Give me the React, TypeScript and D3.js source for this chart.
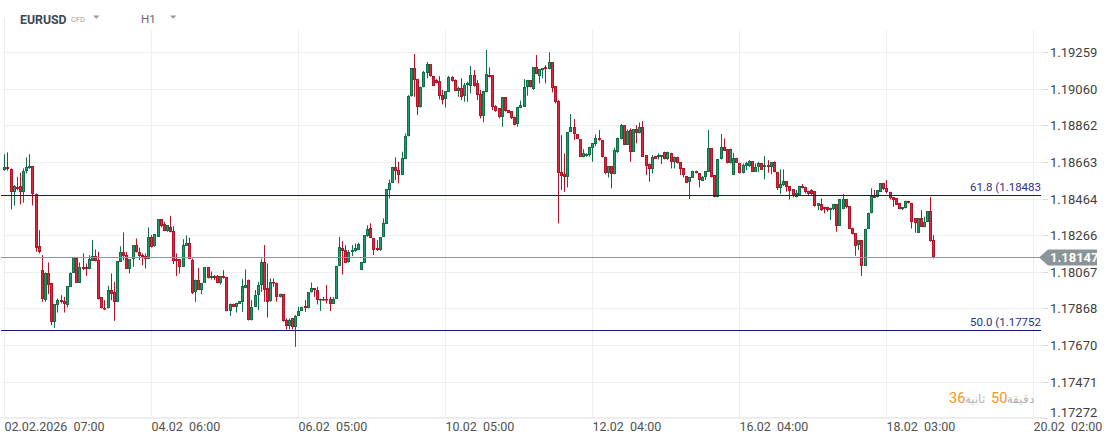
import React from "react";
import * as d3 from "d3";

const W = 1109;
const H = 442;

// Hourly EURUSD candles (02.02.2026 07:00 onwards)
const open = [
1.18619,1.18634,1.18625,1.18501,1.18529,1.18534,1.18498,1.18612,1.18628,1.18639,1.18492,1.18206,1.18076,1.17913,1.18063,1.18004,1.17796,1.17886,1.17913,1.17908,
1.17886,1.17986,1.18062,1.18141,1.18009,1.18091,1.18091,1.18083,1.18127,1.18152,1.18130,1.17928,1.17873,1.17868,1.17967,1.17958,1.17904,1.18123,1.18177,1.18161,
1.18085,1.18136,1.18210,1.18174,1.18158,1.18154,1.18136,1.18257,1.18206,1.18257,1.18351,1.18326,1.18288,1.18308,1.18288,1.18139,1.18136,1.18094,1.18208,1.18221,
1.18130,1.17958,1.18025,1.17971,1.18007,1.18091,1.18031,1.18044,1.18047,1.18009,1.18044,1.18040,1.17853,1.17895,1.17877,1.17895,1.17901,1.17977,1.18025,1.17803,
1.17877,1.17939,1.17998,1.18120,1.17977,1.17910,1.18013,1.18009,1.17928,1.17944,1.17808,1.17772,1.17814,1.17765,1.17828,1.17855,1.17881,1.17868,1.17955,1.17977,
1.17971,1.17913,1.17922,1.17922,1.17922,1.17895,1.17922,1.18100,1.18199,1.18188,1.18120,1.18176,1.18181,1.18188,1.18076,1.18116,1.18261,1.18306,1.18248,1.18194,
1.18185,1.18257,1.18326,1.18511,1.18550,1.18637,1.18619,1.18592,1.18682,1.18802,1.19023,1.19171,1.19111,1.18959,1.19072,1.19144,1.19195,1.19131,1.19108,1.19102,
1.19026,1.19003,1.19044,1.19126,1.19108,1.19050,1.19063,1.19021,1.19081,1.19077,1.19135,1.19090,1.19032,1.18912,1.19041,1.19135,1.19135,1.18967,1.18954,1.18909,
1.19014,1.18945,1.18940,1.18905,1.18867,1.18954,1.18963,1.19072,1.19108,1.19059,1.19177,1.19131,1.19162,1.19177,1.19166,1.19204,1.19075,1.18996,1.18610,1.18596,
1.18579,1.18824,1.18851,1.18813,1.18787,1.18692,1.18695,1.18701,1.18737,1.18760,1.18796,1.18782,1.18692,1.18605,1.18641,1.18596,1.18715,1.18786,1.18863,1.18758,
1.18836,1.18719,1.18842,1.18818,1.18851,1.18701,1.18652,1.18623,1.18695,1.18692,1.18692,1.18719,1.18679,1.18713,1.18661,1.18692,1.18661,1.18628,1.18587,1.18552,
1.18578,1.18616,1.18601,1.18561,1.18579,1.18610,1.18737,1.18592,1.18474,1.18677,1.18746,1.18731,1.18655,1.18592,1.18686,1.18659,1.18601,1.18641,1.18641,1.18668,
1.18610,1.18634,1.18655,1.18634,1.18646,1.18634,1.18664,1.18607,1.18520,1.18538,1.18560,1.18532,1.18516,1.18471,1.18483,1.18534,1.18529,1.18507,1.18511,1.18505,
1.18426,1.18435,1.18417,1.18417,1.18402,1.18407,1.18433,1.18317,1.18407,1.18460,1.18424,1.18306,1.18275,1.18212,1.18239,1.18100,1.18302,1.18384,1.18478,1.18471,
1.18502,1.18547,1.18520,1.18502,1.18471,1.18465,1.18442,1.18407,1.18411,1.18453,1.18442,1.18357,1.18279,1.18357,1.18312,1.18339,1.18397,1.18239];

const high = [
1.18706,1.18715,1.18628,1.18538,1.18583,1.18605,1.18628,1.18688,1.18706,1.18639,1.18492,1.18293,1.18158,1.18063,1.18118,1.18004,1.17890,1.17922,1.17940,1.17931,
1.17989,1.18063,1.18141,1.18141,1.18118,1.18167,1.18112,1.18158,1.18239,1.18188,1.18176,1.17928,1.17913,1.17991,1.18058,1.18013,1.18127,1.18206,1.18281,1.18176,
1.18136,1.18210,1.18248,1.18199,1.18167,1.18167,1.18308,1.18266,1.18270,1.18351,1.18351,1.18339,1.18321,1.18371,1.18315,1.18167,1.18136,1.18244,1.18264,1.18252,
1.18139,1.18025,1.18089,1.18007,1.18091,1.18091,1.18069,1.18049,1.18049,1.18044,1.18076,1.18040,1.17895,1.17895,1.17899,1.17908,1.18027,1.18080,1.18025,1.17913,
1.17968,1.18013,1.18139,1.18212,1.18112,1.18031,1.18031,1.18009,1.17949,1.17944,1.17814,1.17814,1.17814,1.17832,1.17877,1.17877,1.17913,1.17955,1.18009,1.17977,
1.17986,1.17922,1.17931,1.17995,1.17931,1.17931,1.18100,1.18257,1.18234,1.18212,1.18185,1.18212,1.18221,1.18225,1.18121,1.18266,1.18320,1.18330,1.18248,1.18239,
1.18257,1.18357,1.18514,1.18568,1.18637,1.18688,1.18664,1.18719,1.18818,1.19026,1.19171,1.19249,1.19111,1.19072,1.19157,1.19206,1.19195,1.19131,1.19113,1.19129,
1.19054,1.19048,1.19131,1.19129,1.19111,1.19072,1.19117,1.19093,1.19099,1.19184,1.19162,1.19108,1.19054,1.19050,1.19271,1.19177,1.19135,1.18972,1.18954,1.19014,
1.19014,1.18945,1.18940,1.18909,1.18963,1.18996,1.19113,1.19108,1.19108,1.19177,1.19244,1.19168,1.19171,1.19189,1.19258,1.19204,1.19075,1.18999,1.18809,1.18710,
1.18824,1.18923,1.18896,1.18813,1.18787,1.18733,1.18710,1.18746,1.18764,1.18813,1.18836,1.18782,1.18692,1.18641,1.18641,1.18742,1.18795,1.18869,1.18863,1.18840,
1.18845,1.18842,1.18863,1.18878,1.18885,1.18701,1.18655,1.18701,1.18695,1.18710,1.18701,1.18719,1.18719,1.18713,1.18692,1.18692,1.18661,1.18628,1.18587,1.18583,
1.18616,1.18616,1.18601,1.18587,1.18614,1.18836,1.18737,1.18592,1.18679,1.18815,1.18791,1.18731,1.18737,1.18713,1.18686,1.18659,1.18655,1.18664,1.18673,1.18668,
1.18655,1.18664,1.18655,1.18695,1.18673,1.18664,1.18668,1.18610,1.18623,1.18623,1.18560,1.18532,1.18516,1.18511,1.18534,1.18543,1.18529,1.18507,1.18516,1.18505,
1.18438,1.18465,1.18420,1.18420,1.18415,1.18433,1.18433,1.18460,1.18489,1.18460,1.18424,1.18306,1.18275,1.18239,1.18239,1.18302,1.18388,1.18520,1.18511,1.18511,
1.18547,1.18547,1.18565,1.18502,1.18471,1.18465,1.18442,1.18420,1.18453,1.18453,1.18442,1.18357,1.18357,1.18402,1.18366,1.18397,1.18474,1.18266];

const low = [
1.18615,1.18615,1.18406,1.18427,1.18510,1.18433,1.18442,1.18601,1.18626,1.18427,1.18176,1.18167,1.17904,1.17904,1.17946,1.17777,1.17763,1.17846,1.17895,1.17846,
1.17873,1.17986,1.18062,1.18009,1.18009,1.18076,1.18045,1.18080,1.18127,1.18123,1.17917,1.17868,1.17859,1.17868,1.17913,1.17801,1.17904,1.18123,1.18130,1.18085,
1.18058,1.18094,1.18172,1.18130,1.18103,1.18085,1.18136,1.18199,1.18203,1.18257,1.18308,1.18288,1.18284,1.18281,1.18109,1.18044,1.18058,1.18094,1.18208,1.18136,
1.17946,1.17904,1.17971,1.17946,1.18007,1.18031,1.18025,1.18022,1.18004,1.17997,1.18031,1.17853,1.17828,1.17877,1.17846,1.17895,1.17850,1.17977,1.17803,1.17803,
1.17877,1.17859,1.17958,1.17904,1.17819,1.17904,1.17986,1.17904,1.17928,1.17796,1.17754,1.17754,1.17754,1.17660,1.17826,1.17855,1.17850,1.17868,1.17955,1.17931,
1.17890,1.17855,1.17910,1.17895,1.17855,1.17895,1.17922,1.18100,1.18053,1.18116,1.18116,1.18152,1.18176,1.18188,1.18076,1.18116,1.18257,1.18253,1.18158,1.18181,
1.18181,1.18257,1.18326,1.18465,1.18550,1.18565,1.18547,1.18592,1.18682,1.18802,1.19017,1.19017,1.18918,1.18959,1.19068,1.19117,1.19126,1.19077,1.19090,1.19003,
1.18976,1.18959,1.19044,1.19099,1.19050,1.19017,1.18999,1.18990,1.18990,1.19035,1.19072,1.18999,1.18900,1.18878,1.19041,1.19122,1.18945,1.18936,1.18900,1.18854,
1.18936,1.18930,1.18896,1.18863,1.18854,1.18954,1.18963,1.19023,1.19068,1.19054,1.19139,1.19090,1.19117,1.19090,1.19166,1.19041,1.18981,1.18330,1.18511,1.18501,
1.18525,1.18824,1.18782,1.18787,1.18692,1.18688,1.18692,1.18692,1.18664,1.18749,1.18778,1.18688,1.18597,1.18579,1.18520,1.18596,1.18713,1.18786,1.18755,1.18755,
1.18664,1.18719,1.18764,1.18818,1.18692,1.18592,1.18556,1.18601,1.18682,1.18677,1.18652,1.18677,1.18673,1.18628,1.18628,1.18655,1.18592,1.18579,1.18550,1.18462,
1.18578,1.18601,1.18525,1.18561,1.18565,1.18610,1.18579,1.18471,1.18471,1.18677,1.18724,1.18655,1.18655,1.18592,1.18659,1.18601,1.18601,1.18619,1.18637,1.18610,
1.18610,1.18610,1.18619,1.18569,1.18605,1.18597,1.18607,1.18511,1.18489,1.18532,1.18502,1.18460,1.18471,1.18471,1.18483,1.18520,1.18492,1.18483,1.18482,1.18420,
1.18402,1.18397,1.18384,1.18393,1.18348,1.18402,1.18284,1.18317,1.18407,1.18411,1.18302,1.18270,1.18154,1.18185,1.18045,1.18100,1.18302,1.18384,1.18469,1.18471,
1.18502,1.18511,1.18493,1.18460,1.18420,1.18429,1.18407,1.18402,1.18411,1.18438,1.18302,1.18279,1.18279,1.18312,1.18308,1.18339,1.18230,1.18140];

const close = [
1.18634,1.18623,1.18498,1.18534,1.18518,1.18498,1.18615,1.18637,1.18639,1.18492,1.18199,1.18176,1.17917,1.18063,1.17998,1.17792,1.17890,1.17913,1.17901,1.17890,
1.17989,1.18063,1.18141,1.18009,1.18091,1.18080,1.18080,1.18134,1.18152,1.18125,1.17917,1.17868,1.17863,1.17967,1.17949,1.17904,1.18127,1.18177,1.18154,1.18085,
1.18136,1.18210,1.18172,1.18154,1.18145,1.18136,1.18257,1.18203,1.18270,1.18351,1.18315,1.18288,1.18321,1.18281,1.18127,1.18127,1.18094,1.18215,1.18221,1.18139,
1.17953,1.18025,1.17971,1.18007,1.18091,1.18031,1.18044,1.18031,1.18007,1.18044,1.18031,1.17853,1.17895,1.17877,1.17899,1.17908,1.17989,1.17998,1.17803,1.17877,
1.17939,1.17998,1.18120,1.17971,1.17904,1.18013,1.18004,1.17928,1.17944,1.17801,1.17772,1.17805,1.17765,1.17828,1.17855,1.17877,1.17868,1.17955,1.17980,1.17968,
1.17913,1.17922,1.17913,1.17913,1.17895,1.17922,1.18100,1.18203,1.18181,1.18116,1.18176,1.18188,1.18194,1.18217,1.18121,1.18266,1.18302,1.18253,1.18188,1.18185,
1.18257,1.18330,1.18514,1.18550,1.18637,1.18614,1.18592,1.18686,1.18806,1.19023,1.19171,1.19108,1.18959,1.19072,1.19149,1.19195,1.19131,1.19077,1.19093,1.19023,
1.18999,1.19048,1.19126,1.19104,1.19050,1.19063,1.19017,1.19081,1.19090,1.19135,1.19077,1.19026,1.18912,1.19050,1.19140,1.19126,1.18963,1.18941,1.18905,1.19014,
1.18940,1.18930,1.18900,1.18863,1.18963,1.18972,1.19072,1.19108,1.19068,1.19177,1.19139,1.19168,1.19171,1.19166,1.19204,1.19066,1.18987,1.18605,1.18587,1.18583,
1.18824,1.18851,1.18813,1.18787,1.18692,1.18710,1.18704,1.18742,1.18764,1.18796,1.18782,1.18688,1.18605,1.18641,1.18596,1.18728,1.18795,1.18863,1.18758,1.18833,
1.18719,1.18842,1.18818,1.18851,1.18692,1.18643,1.18623,1.18692,1.18682,1.18701,1.18701,1.18682,1.18719,1.18661,1.18692,1.18655,1.18625,1.18592,1.18550,1.18583,
1.18616,1.18601,1.18565,1.18579,1.18614,1.18737,1.18579,1.18471,1.18679,1.18742,1.18724,1.18655,1.18731,1.18686,1.18659,1.18601,1.18646,1.18655,1.18668,1.18610,
1.18634,1.18655,1.18619,1.18646,1.18634,1.18664,1.18607,1.18520,1.18543,1.18560,1.18529,1.18507,1.18483,1.18496,1.18534,1.18520,1.18498,1.18492,1.18492,1.18426,
1.18438,1.18402,1.18406,1.18402,1.18411,1.18433,1.18317,1.18460,1.18460,1.18417,1.18302,1.18270,1.18208,1.18239,1.18100,1.18302,1.18388,1.18478,1.18469,1.18511,
1.18547,1.18514,1.18502,1.18465,1.18456,1.18429,1.18407,1.18420,1.18453,1.18438,1.18339,1.18330,1.18357,1.18312,1.18339,1.18397,1.18234,1.18147];

const xTickIndex = [0, 47, 94, 141, 188, 235, 282, 329];
const xTickDate = ["02.02.2026", "04.02", "06.02", "10.02", "12.02", "16.02", "18.02", "20.02"];
const xTickTime = ["07:00", "06:00", "05:00", "05:00", "04:00", "04:00", "03:00", "02:00"];

const yTicks = [1.19259, 1.1906, 1.18862, 1.18663, 1.18464, 1.18266, 1.18067, 1.17868, 1.1767, 1.17471, 1.17272];

const fibLabels = ["61.8", "50.0"];
const fibValues = [1.18483, 1.17752];

const lastPrice = 1.18147;

const FONT = "Roboto, 'Noto Sans', sans-serif";
const UP_FILL = "#1e9b69";
const UP_LINE = "#0f7047";
const DN_FILL = "#e3253c";
const DN_LINE = "#b3142a";

export default function App() {
  const x = d3.scaleLinear().domain([0, 329]).range([4.3, 4.3 + 329 * 3.128]);
  const y = d3.scaleLinear().domain([1.17272, 1.19259]).range([418.3, 52.2]);
  const plotRight = 1043;
  const bottom = 417;

  const candles = open.map((o, i) => {
    const c = close[i];
    const up = c >= o;
    const cx = Math.round(x(i));
    const yTop = Math.round(y(Math.max(o, c)));
    const yBot = Math.round(y(Math.min(o, c)));
    const hgt = Math.max(1, yBot - yTop);
    return (
      <g key={i}>
        <line
          x1={cx + 0.5}
          x2={cx + 0.5}
          y1={y(high[i])}
          y2={y(low[i])}
          stroke={up ? UP_LINE : DN_LINE}
          strokeWidth={1}
        />
        <rect
          x={cx - 1 + 0.5}
          y={yTop + 0.5}
          width={2}
          height={Math.max(0.5, hgt - 1)}
          fill={up ? UP_FILL : DN_FILL}
          stroke={up ? UP_LINE : DN_LINE}
          strokeWidth={1}
        />
      </g>
    );
  });

  const yLast = y(lastPrice);
  const yLastC = Math.round(yLast) + 0.5;

  return (
    <svg
      width={W}
      height={H}
      style={{ position: "fixed", left: 0, top: 0, background: "#fff", fontFamily: FONT }}
    >
      <rect x={0} y={0} width={W} height={H} fill="#fff" />
      {/* header */}
      <text x={20} y={23.5} fontSize={12.3} fontWeight={700} fill="#3b4856">EURUSD</text>
      <text x={71} y={22} fontSize={7.5} fill="#a0a0a0">CFD</text>
      <path d="M93,15.5 L99.5,15.5 L96.25,18.8 Z" fill="#9a9a9a" />
      <text x={141} y={23} fontSize={11.5} fill="#666">H1</text>
      <path d="M170,15.5 L176.5,15.5 L173.25,18.8 Z" fill="#9a9a9a" />

      {/* grid */}
      <line x1={4.5} x2={4.5} y1={18} y2={bottom} stroke="#ececec" />
      {xTickIndex.map((t, i) => (
        <line key={"vg" + i} x1={Math.round(x(t)) + 0.5} x2={Math.round(x(t)) + 0.5} y1={30} y2={bottom} stroke="#efefef" />
      ))}
      {yTicks.map((t, i) => (
        <line key={"hg" + i} x1={4} x2={plotRight} y1={Math.round(y(t)) + 0.5} y2={Math.round(y(t)) + 0.5} stroke="#efefef" />
      ))}
      <line x1={0} x2={plotRight} y1={bottom + 0.5} y2={bottom + 0.5} stroke="#ececec" />

      {/* y ticks and labels */}
      {yTicks.map((t, i) => {
        const yy = Math.round(y(t)) + 0.5;
        const ly = Math.min(y(t), 412.5);
        return (
          <g key={"yt" + i}>
            <line x1={plotRight} x2={1048} y1={yy} y2={yy} stroke="#d8d8d8" />
            <text x={1050} y={ly} dy="0.38em" fontSize={13} fill="#3f3f3f">
              {t.toFixed(5)}
            </text>
          </g>
        );
      })}

      {/* x labels */}
      {xTickIndex.map((t, i) => (
        <text key={"xl" + i} x={Math.round(x(t)) + 0.5} y={431} fontSize={12.5} fill="#505050" style={{ whiteSpace: "pre" }}>
          {xTickDate[i] + "  " + xTickTime[i]}
        </text>
      ))}

      {/* candles */}
      <g>{candles}</g>

      {/* fib levels */}
      {fibValues.map((v, i) => (
        <g key={"fib" + i}>
          <line x1={1} x2={1041} y1={Math.round(y(v)) + 0.5} y2={Math.round(y(v)) + 0.5} stroke="#151b6c" strokeWidth={1} />
          <text x={1041} y={y(v) - 8} dy="0.35em" textAnchor="end" fontSize={11.5} fill="#2b3184">
            {fibLabels[i] + " (" + v.toFixed(5)}
          </text>
        </g>
      ))}

      {/* last price line */}
      <line x1={1} x2={1040} y1={yLastC} y2={yLastC} stroke="#8f9799" strokeWidth={1} />
      <path
        d={`M1039,${yLastC} L1048,${yLastC - 8} L1097,${yLastC - 8} L1097,${yLastC + 8} L1048,${yLastC + 8} Z`}
        fill="#8b9497"
      />
      <text x={1050} y={yLastC} dy="0.37em" fontSize={13} fontWeight={700} fill="#fff">
        {lastPrice.toFixed(5)}
      </text>

      {/* countdown watermark */}
      <g fontSize={14.5}>
        <text x={949} y={403} fill="#f7941d">36</text>
        <text x={965} y={403} fill="#b4b4b4" fontSize={12}>ثانية</text>
        <text x={991} y={403} fill="#f7941d">50</text>
        <text x={1007} y={403} fill="#b4b4b4" fontSize={12}>دقيقة</text>
      </g>
    </svg>
  );
}
